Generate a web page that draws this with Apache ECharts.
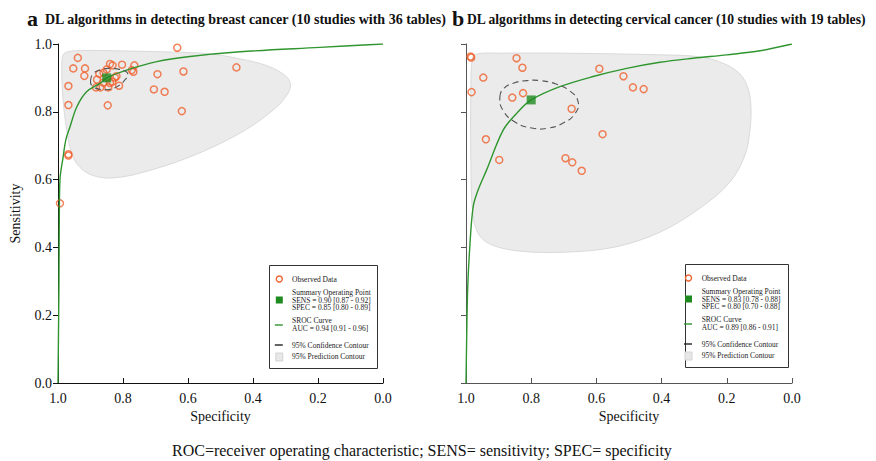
<!DOCTYPE html>
<html><head><meta charset="utf-8">
<script src="https://cdn.jsdelivr.net/npm/echarts@6/dist/echarts.min.js"></script>
<style>html,body{margin:0;padding:0;background:#fff}#c{width:876px;height:461px}</style>
</head><body><div id="c"></div>
<script>
// ---------- Panel a: breast cancer ----------
const specA = [0.939,0.953,0.917,0.919,0.968,0.968,0.968,0.968,0.994,0.847,0.840,0.832,0.803,0.765,0.773,0.768,0.873,0.850,0.825,0.833,0.812,0.883,0.845,0.861,0.694,0.705,0.672,0.614,0.633,0.619,0.451,0.860,0.880,0.840,0.820,0.870];
const sensA = [0.959,0.928,0.928,0.906,0.876,0.820,0.675,0.671,0.530,0.819,0.941,0.937,0.939,0.937,0.923,0.918,0.912,0.925,0.901,0.889,0.877,0.872,0.872,0.886,0.911,0.866,0.859,0.919,0.989,0.802,0.931,0.915,0.895,0.885,0.905,0.872];
const summaryA = [0.85, 0.90];
const curveSpecA = [1.0, 0.999, 0.997, 0.996, 0.994, 0.984, 0.976, 0.963, 0.942, 0.912, 0.871, 0.85, 0.789, 0.696, 0.594, 0.44, 0.194, 0.0];
const curveSensA = [0.0, 0.10, 0.30, 0.481, 0.599, 0.668, 0.717, 0.756, 0.815, 0.859, 0.884, 0.90, 0.923, 0.948, 0.963, 0.977, 0.990, 1.0];
const confSpecA = [0.900,0.892,0.871,0.846,0.815,0.791,0.785,0.794,0.815,0.843,0.874,0.895];
const confSensA = [0.891,0.912,0.923,0.928,0.926,0.919,0.909,0.894,0.876,0.866,0.867,0.876];
const predSpecA = [0.988,0.982,0.957,0.902,0.778,0.646,0.532,0.440,0.363,0.311,0.286,0.292,0.338,0.440,0.594,0.748,0.831,0.881,0.923,0.954,0.973,0.985];
const predSensA = [0.944,0.971,0.979,0.981,0.979,0.976,0.971,0.956,0.938,0.914,0.888,0.855,0.805,0.737,0.667,0.619,0.605,0.609,0.628,0.667,0.746,0.844];
const legendA = ['Observed Data','Summary Operating Point','SENS = 0.90 [0.87 - 0.92]','SPEC = 0.85 [0.80 - 0.89]','SROC Curve','AUC = 0.94 [0.91 - 0.96]','95% Confidence Contour','95% Prediction Contour'];

// ---------- Panel b: cervical cancer ----------
const specB = [0.986,0.845,0.827,0.947,0.983,0.858,0.825,0.676,0.939,0.898,0.695,0.674,0.645,0.581,0.591,0.517,0.488,0.455,0.984];
const sensB = [0.963,0.958,0.930,0.901,0.858,0.842,0.855,0.809,0.719,0.658,0.663,0.651,0.626,0.734,0.927,0.905,0.872,0.867,0.960];
const summaryB = [0.80, 0.835];
const curveSpecB = [1.0, 0.998, 0.995, 0.989, 0.978, 0.963, 0.937, 0.886, 0.844, 0.80, 0.712, 0.610, 0.507, 0.405, 0.303, 0.200, 0.098, 0.0];
const curveSensB = [0.0, 0.127, 0.274, 0.392, 0.520, 0.569, 0.628, 0.746, 0.796, 0.835, 0.874, 0.904, 0.928, 0.946, 0.958, 0.968, 0.980, 1.0];
const confSpecB = [0.896,0.883,0.853,0.813,0.773,0.724,0.681,0.656,0.666,0.702,0.748,0.798,0.850,0.887];
const confSensB = [0.844,0.870,0.885,0.892,0.892,0.882,0.861,0.829,0.794,0.767,0.752,0.752,0.770,0.805];
const predSpecB = [0.985,0.979,0.957,0.896,0.712,0.405,0.282,0.206,0.160,0.135,0.126,0.129,0.144,0.190,0.282,0.405,0.543,0.696,0.834,0.920,0.960,0.979,0.985];
const predSensB = [0.864,0.962,0.972,0.973,0.973,0.968,0.962,0.941,0.912,0.870,0.814,0.746,0.673,0.593,0.516,0.445,0.401,0.386,0.389,0.407,0.437,0.496,0.658];
const legendB = ['Observed Data','Summary Operating Point','SENS = 0.83 [0.78 - 0.88]','SPEC = 0.80 [0.70 - 0.88]','SROC Curve','AUC = 0.89 [0.86 - 0.91]','95% Confidence Contour','95% Prediction Contour'];

const tickValues = [0, 0.2, 0.4, 0.6, 0.8, 1.0];
const titleA = ['a', 'DL algorithms in detecting breast cancer (10 studies with 36 tables)'];
const titleB = ['b', 'DL algorithms in detecting cervical cancer (10 studies with 19 tables)'];
const caption = 'ROC=receiver operating characteristic; SENS= sensitivity; SPEC= specificity';
const xName = 'Specificity', yName = 'Sensitivity';

// ---------- build ----------
const SERIF = '"Liberation Serif", "Times New Roman", serif';
const ORANGE = '#f0622e', GREEN = '#2f962f', SQGREEN = '#1f8a1f';
const zip = (a, b) => a.map((v, i) => [v, b[i]]);

function polygonSeries(idx, pts, style, smooth, z) {
  return {
    type: 'custom', xAxisIndex: idx, yAxisIndex: idx, data: pts, encode: {x: 0, y: 1}, silent: true, z: z, clip: false,
    renderItem: (params, api) => params.dataIndex === 0 ? {
      type: 'polygon', shape: {points: pts.map(p => api.coord(p)), smooth: smooth}, style: style
    } : null
  };
}

function panelSeries(idx, spec, sens, summary, cSpec, cSens, confSpec, confSens, pSpec, pSens) {
  return [
    polygonSeries(idx, zip(pSpec, pSens), {fill: '#ebebeb', stroke: '#dadada', lineWidth: 1}, 0.35, 1),
    {type: 'scatter', xAxisIndex: idx, yAxisIndex: idx, data: zip(spec, sens), symbol: 'circle', symbolSize: 7,
     itemStyle: {color: 'rgba(255,255,255,0)', borderColor: ORANGE, borderWidth: 1.5}, z: 3, silent: true},
    {type: 'line', xAxisIndex: idx, yAxisIndex: idx, data: zip(cSpec, cSens), smooth: 0.35, symbol: 'none',
     lineStyle: {color: GREEN, width: 1.4}, z: 4, silent: true},
    polygonSeries(idx, zip(confSpec, confSens), {fill: 'none', stroke: '#555', lineWidth: 1.1, lineDash: [6, 4]}, 0.5, 5),
    {type: 'scatter', xAxisIndex: idx, yAxisIndex: idx, data: [summary], symbol: 'rect', symbolSize: 9,
     itemStyle: {color: SQGREEN}, z: 6, silent: true}
  ];
}

function axisPair(idx, showY, axisColor) {
  const x = {
    gridIndex: idx, type: 'value', min: 0, max: 1, interval: 0.2, inverse: true,
    name: xName, nameLocation: 'middle', nameGap: 24,
    nameTextStyle: {fontFamily: SERIF, fontSize: 14, color: '#111'},
    axisLine: {show: true, onZero: false, lineStyle: {color: axisColor, width: 1}},
    axisTick: {show: true, inside: true, length: 5, lineStyle: {color: axisColor}},
    axisLabel: {fontFamily: SERIF, fontSize: 14, color: '#111', margin: 8, formatter: v => v.toFixed(1)},
    splitLine: {show: false}
  };
  const y = {
    gridIndex: idx, type: 'value', min: 0, max: 1, interval: 0.2,
    name: showY ? yName : '', nameLocation: 'middle', nameGap: 36,
    nameTextStyle: {fontFamily: SERIF, fontSize: 14, color: '#111'},
    axisLine: {show: true, onZero: false, lineStyle: {color: axisColor, width: 1}},
    axisTick: {show: true, inside: false, length: 5, lineStyle: {color: axisColor}},
    axisLabel: {show: showY, fontFamily: SERIF, fontSize: 14, color: '#111', margin: 6, formatter: v => v.toFixed(1)},
    splitLine: {show: false}
  };
  return [x, y];
}

function legendGraphic(ox, oy, w, iconX, textX, lines) {
  const FS = 7.5;
  const t = (txt, y) => ({type: 'text', left: ox + textX, top: oy + y - FS / 2, z: 11,
    style: {text: txt, font: FS + 'px ' + SERIF, fill: '#222'}});
  return [
    {type: 'rect', left: ox, top: oy, shape: {width: w, height: 103}, style: {fill: '#fff', stroke: '#333', lineWidth: 1}, z: 10},
    {type: 'circle', x: ox + iconX, y: oy + 14, shape: {cx: 0, cy: 0, r: 3}, style: {fill: 'none', stroke: ORANGE, lineWidth: 1.4}, z: 11},
    {type: 'rect', x: ox + iconX - 3.5, y: oy + 31.5, shape: {width: 7, height: 7}, style: {fill: SQGREEN}, z: 11},
    {type: 'line', x: 0, y: 0, shape: {x1: ox + iconX - 4.5, y1: oy + 60, x2: ox + iconX + 3.5, y2: oy + 60}, style: {stroke: GREEN, lineWidth: 1.4}, z: 11},
    {type: 'line', x: 0, y: 0, shape: {x1: ox + iconX - 4.5, y1: oy + 80, x2: ox + iconX + 3.5, y2: oy + 80}, style: {stroke: '#222', lineWidth: 1.4}, z: 11},
    {type: 'rect', x: ox + iconX - 3.5, y: oy + 88, shape: {width: 7, height: 8}, style: {fill: '#e8e8e8', stroke: '#d4d4d4'}, z: 11},
    t(lines[0], 14),
    t(lines[1], 27.5),
    t(lines[2], 35),
    t(lines[3], 42.5),
    t(lines[4], 55.5),
    t(lines[5], 63.5),
    t(lines[6], 80),
    t(lines[7], 91)
  ];
}

const [xa, ya] = axisPair(0, true, '#111');
const [xb, yb] = axisPair(1, false, '#555');

const option = {
  animation: false,
  backgroundColor: '#fff',
  grid: [
    {left: 58, top: 44, width: 325, height: 339},
    {left: 466, top: 44, width: 326, height: 339}
  ],
  xAxis: [xa, xb],
  yAxis: [ya, yb],
  series: [].concat(
    panelSeries(0, specA, sensA, summaryA, curveSpecA, curveSensA, confSpecA, confSensA, predSpecA, predSensA),
    panelSeries(1, specB, sensB, summaryB, curveSpecB, curveSensB, confSpecB, confSensB, predSpecB, predSensB)
  ),
  graphic: [].concat(
    [
      {type: 'text', left: 27, top: 7, style: {text: titleA[0], font: 'bold 22px ' + SERIF, fill: '#111'}},
      {type: 'text', left: 45, top: 12, style: {text: titleA[1], font: 'bold 14px ' + SERIF, fill: '#111'}},
      {type: 'text', left: 452, top: 7, style: {text: titleB[0], font: 'bold 22px ' + SERIF, fill: '#111'}},
      {type: 'text', left: 467, top: 12, style: {text: titleB[1], font: 'bold 13.6px ' + SERIF, fill: '#111'}},
      {type: 'text', left: 172, top: 442, style: {text: caption, font: '16px ' + SERIF, fill: '#111'}}
    ],
    legendGraphic(269, 265, 108, 10.3, 23, legendA),
    legendGraphic(685, 264, 103, 3.5, 16.7, legendB)
  )
};

const chart = echarts.init(document.getElementById('c'), null, {renderer: 'svg'});
chart.setOption(option);
</script>
</body></html>
